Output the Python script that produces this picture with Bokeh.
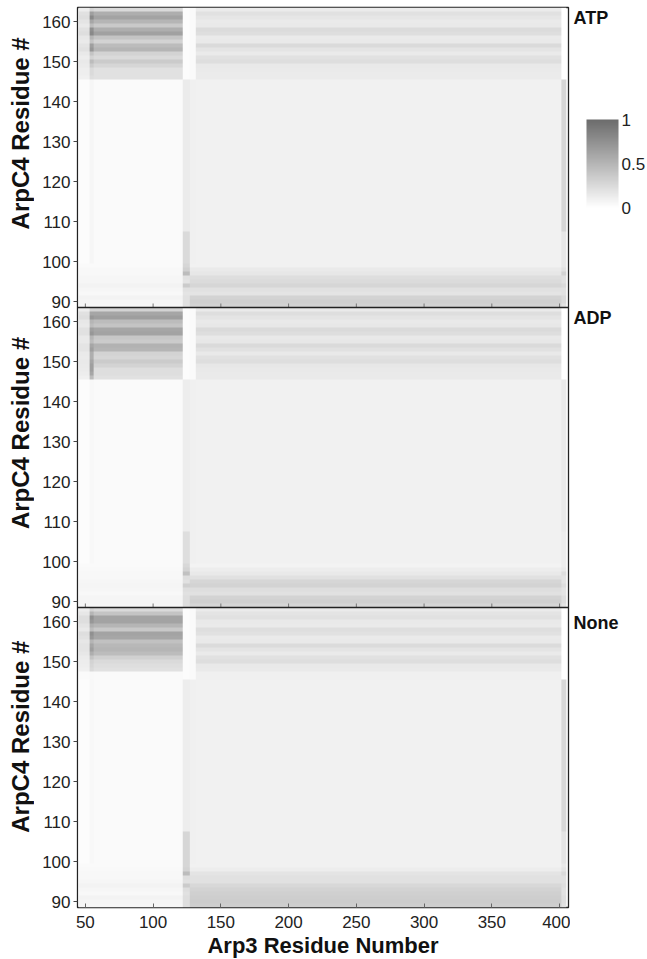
import numpy as np
from bokeh.plotting import figure
from bokeh.layouts import row
from bokeh.models import LinearColorMapper, ColorBar, FixedTicker, Span, Range1d
from bokeh.core.properties import value
from bokeh.embed import file_html
from bokeh.resources import INLINE

# ---------------- axes / labels ----------------
x_ticks = [50, 100, 150, 200, 250, 300, 350, 400]
y_ticks = [90, 100, 110, 120, 130, 140, 150, 160]
cbar_ticks = [0, 0.5, 1]
panel_names = ["ATP", "ADP", "None"]
x_title = "Arp3 Residue Number"
y_title = "ArpC4 Residue #"

# ArpC4 residues (rows) and Arp3 residue segments (columns)
arpc4_rows = list(range(89, 164))
seg_edges = [45, 53, 56, 122, 127, 131, 401, 405]   # edge, line, block, hinge, gap, body, end

# ---------------- ATP ----------------
atp_edge_top = [0.12, 0.20, 0.22, 0.18, 0.15, 0.20, 0.22, 0.16, 0.14, 0.18, 0.20, 0.15, 0.12, 0.15, 0.13, 0.11, 0.11, 0.10]
atp_block_top = [0.25, 0.55, 0.62, 0.50, 0.36, 0.55, 0.64, 0.40, 0.30, 0.45, 0.50, 0.30, 0.25, 0.35, 0.28, 0.20, 0.20, 0.20]
atp_line_top = [0.30, 0.65, 0.80, 0.60, 0.45, 0.75, 0.80, 0.50, 0.40, 0.65, 0.70, 0.40, 0.30, 0.45, 0.35, 0.25, 0.25, 0.22]
atp_body_top = [0.13, 0.20, 0.17, 0.14, 0.15, 0.24, 0.22, 0.14, 0.15, 0.25, 0.18, 0.14, 0.20, 0.22, 0.15, 0.14, 0.13, 0.13]
atp_block_bottom = [0.03, 0.05, 0.05, 0.06, 0.06, 0.08, 0.06, 0.05, 0.08, 0.07, 0.06]
atp_hinge_bottom = [0.28, 0.32, 0.45, 0.20, 0.18, 0.35, 0.20, 0.18, 0.20, 0.20, 0.20]
atp_body_bottom = [0.09, 0.14, 0.16, 0.22, 0.24, 0.28, 0.20, 0.18, 0.30, 0.32, 0.30]
atp_end_bottom = [0.16, 0.20, 0.30, 0.20, 0.20, 0.25, 0.20, 0.20, 0.25, 0.25, 0.20]
# mid-region levels: edge, line, block, hinge(upper, lower), gap, body, end(upper, lower)
atp_mid = [0.02, 0.06, 0.03, 0.13, 0.25, 0.10, 0.09, 0.28, 0.16]

# ---------------- ADP ----------------
adp_edge_top = [0.12, 0.20, 0.22, 0.16, 0.15, 0.20, 0.20, 0.15, 0.15, 0.18, 0.18, 0.14, 0.13, 0.15, 0.14, 0.13, 0.12, 0.10]
adp_block_top = [0.30, 0.60, 0.66, 0.45, 0.40, 0.60, 0.62, 0.38, 0.35, 0.52, 0.50, 0.30, 0.28, 0.35, 0.30, 0.22, 0.22, 0.20]
adp_line_top = [0.30, 0.60, 0.70, 0.50, 0.45, 0.65, 0.70, 0.50, 0.45, 0.60, 0.65, 0.55, 0.55, 0.60, 0.65, 0.65, 0.60, 0.45]
adp_body_top = [0.14, 0.22, 0.18, 0.15, 0.16, 0.25, 0.22, 0.15, 0.16, 0.25, 0.20, 0.15, 0.20, 0.22, 0.16, 0.15, 0.14, 0.14]
adp_block_bottom = [0.03, 0.04, 0.05, 0.05, 0.06, 0.07, 0.06, 0.05, 0.07, 0.07, 0.06]
adp_hinge_bottom = [0.26, 0.30, 0.42, 0.22, 0.20, 0.32, 0.22, 0.20, 0.22, 0.22, 0.22]
adp_body_bottom = [0.08, 0.12, 0.15, 0.20, 0.28, 0.30, 0.22, 0.20, 0.30, 0.32, 0.28]
adp_end_bottom = [0.12, 0.15, 0.22, 0.18, 0.18, 0.22, 0.18, 0.18, 0.22, 0.22, 0.18]
adp_mid = [0.02, 0.05, 0.03, 0.12, 0.22, 0.10, 0.09, 0.14, 0.12]

# ---------------- None ----------------
none_edge_top = [0.12, 0.16, 0.22, 0.22, 0.18, 0.15, 0.22, 0.20, 0.16, 0.18, 0.18, 0.16, 0.13, 0.12, 0.11, 0.10, 0.03, 0.03]
none_block_top = [0.25, 0.40, 0.62, 0.62, 0.50, 0.37, 0.62, 0.60, 0.42, 0.48, 0.50, 0.45, 0.32, 0.25, 0.22, 0.20, 0.03, 0.03]
none_line_top = [0.30, 0.50, 0.75, 0.70, 0.55, 0.45, 0.75, 0.70, 0.50, 0.60, 0.65, 0.55, 0.40, 0.30, 0.28, 0.25, 0.04, 0.04]
none_body_top = [0.13, 0.18, 0.20, 0.15, 0.14, 0.22, 0.20, 0.14, 0.15, 0.24, 0.18, 0.14, 0.20, 0.22, 0.15, 0.14, 0.10, 0.10]
none_block_bottom = [0.03, 0.04, 0.05, 0.05, 0.06, 0.08, 0.06, 0.05, 0.08, 0.07, 0.06]
none_hinge_bottom = [0.28, 0.30, 0.45, 0.22, 0.20, 0.35, 0.22, 0.20, 0.22, 0.22, 0.22]
none_body_bottom = [0.09, 0.12, 0.18, 0.20, 0.20, 0.26, 0.30, 0.32, 0.33, 0.34, 0.33]
none_end_bottom = [0.15, 0.18, 0.25, 0.20, 0.20, 0.22, 0.20, 0.20, 0.22, 0.22, 0.20]
none_mid = [0.02, 0.05, 0.03, 0.12, 0.28, 0.10, 0.09, 0.26, 0.18]

hinge_top_level = 0.02
gap_top_level = 0.03
end_top_level = 0.0


def column_profile(top, mid_upper, mid_lower, bottom):
    vals = []
    for r in arpc4_rows:
        if r >= 146:
            v = top[163 - r] if isinstance(top, list) else top
        elif r >= 108:
            v = mid_upper
        elif r >= 100:
            v = mid_lower
        else:
            v = bottom[99 - r] if isinstance(bottom, list) else bottom
        vals.append(v)
    return vals


def build_matrix(edge_top, block_top, line_top, body_top, block_bottom, hinge_bottom, body_bottom, end_bottom, mid):
    cols = [
        column_profile(edge_top, mid[0], mid[0], block_bottom),
        column_profile(line_top, mid[1], mid[1], block_bottom),
        column_profile(block_top, mid[2], mid[2], block_bottom),
        column_profile(hinge_top_level, mid[3], mid[4], hinge_bottom),
        column_profile(gap_top_level, mid[5], mid[5], body_bottom),
        column_profile(body_top, mid[6], mid[6], body_bottom),
        column_profile(end_top_level, mid[7], mid[8], end_bottom),
    ]
    M = np.zeros((len(arpc4_rows), seg_edges[-1] - seg_edges[0]))
    for i, prof in enumerate(cols):
        a, b = seg_edges[i] - seg_edges[0], seg_edges[i + 1] - seg_edges[0]
        M[:, a:b] = np.array(prof)[:, None]
    return M


mats = [
    build_matrix(atp_edge_top, atp_block_top, atp_line_top, atp_body_top, atp_block_bottom, atp_hinge_bottom, atp_body_bottom, atp_end_bottom, atp_mid),
    build_matrix(adp_edge_top, adp_block_top, adp_line_top, adp_body_top, adp_block_bottom, adp_hinge_bottom, adp_body_bottom, adp_end_bottom, adp_mid),
    build_matrix(none_edge_top, none_block_top, none_line_top, none_body_top, none_block_bottom, none_hinge_bottom, none_body_bottom, none_end_bottom, none_mid),
]

palette = ["#%02x%02x%02x" % (g, g, g) for g in np.linspace(255, 0x6c, 256).astype(int)]
mapper = LinearColorMapper(palette=palette, low=0, high=1)

FONT = "Liberation Sans"
H = 959
TOP, BOTTOM = 7, 52
FRAME_H = H - TOP - BOTTOM
PANEL_SPAN = 75           # ArpC4 units per stacked panel
Y_LO, Y_HI = 88.5, 163.5  # per-panel visible ArpC4 range
offsets = [2 * PANEL_SPAN, PANEL_SPAN, 0]   # ATP on top

# ---------------- main (stacked heatmaps) ----------------
p = figure(frame_width=491, frame_height=FRAME_H, width=536, height=H,
           x_range=(44.2, 406.6), y_range=(Y_LO, Y_HI + 2 * PANEL_SPAN),
           output_backend="svg", toolbar_location=None,
           min_border_left=43, min_border_right=2, min_border_top=TOP, min_border_bottom=BOTTOM)
for M, off in zip(mats, offsets):
    p.image(image=[M], x=seg_edges[0], y=arpc4_rows[0] - 0.5 + off,
            dw=seg_edges[-1] - seg_edges[0], dh=len(arpc4_rows), color_mapper=mapper)

# panel separators and their inner ticks
for off in offsets[:2]:
    sep = Y_LO + off
    p.add_layout(Span(location=sep, dimension="width", line_color="#222222", line_width=1.3))
    p.segment(x0=x_ticks, x1=x_ticks, y0=[sep] * len(x_ticks), y1=[sep + 1] * len(x_ticks),
              line_color="#777777", line_width=1)

p.grid.visible = False
p.outline_line_color = "#222222"
p.outline_line_width = 1.3

tick_pos = [t + off for off in offsets for t in y_ticks]
ya = p.yaxis[0]
ya.ticker = FixedTicker(ticks=tick_pos)
ya.major_label_overrides = {t + off: str(t) for off in offsets for t in y_ticks}
ya.axis_line_color = None
ya.major_tick_out = 4
ya.major_tick_in = 0
ya.minor_tick_line_color = None
ya.major_tick_line_color = "#444444"
ya.major_label_text_font = FONT
ya.major_label_text_font_size = "17px"
ya.major_label_text_color = "#222222"
ya.major_label_standoff = 3

xa = p.xaxis[0]
xa.ticker = FixedTicker(ticks=x_ticks)
xa.axis_line_color = None
xa.major_tick_in = 4
xa.major_tick_out = 0
xa.minor_tick_line_color = None
xa.major_tick_line_color = "#666666"
xa.major_label_text_font = FONT
xa.major_label_text_font_size = "17px"
xa.major_label_text_color = "#222222"
xa.major_label_standoff = 8
xa.axis_label = x_title
xa.axis_label_text_font = FONT
xa.axis_label_text_font_style = "bold"
xa.axis_label_text_font_size = "22px"
xa.axis_label_text_color = "#111111"
xa.axis_label_standoff = 2


def side_figure(w):
    # the frame of a side figure is aligned with the main frame (TOP .. H-BOTTOM);
    # its y range is therefore expressed in canvas pixels
    f = figure(width=w, height=H, x_range=(0, w), y_range=Range1d(H - BOTTOM, TOP),
               output_backend="svg", toolbar_location=None,
               min_border=0, min_border_left=0, min_border_right=0,
               min_border_top=TOP, min_border_bottom=BOTTOM)
    f.axis.visible = False
    f.grid.visible = False
    f.outline_line_color = None
    return f


# ---------------- left: y titles ----------------
left = side_figure(34)
left.text(x=[20, 20, 20], y=[133, 433, 737], text=[y_title] * 3, angle=np.pi / 2,
          text_align="center", text_baseline="middle", text_font=value(FONT),
          text_font_style="bold", text_font_size="24px", text_color="#111111")

# ---------------- right: panel names + colour bar ----------------
right = side_figure(77)
right.text(x=[3, 3, 3], y=[18, 318, 623], text=panel_names,
           text_align="left", text_baseline="middle", text_font=value(FONT),
           text_font_style="bold", text_font_size="18px", text_color="#111111")
cb = ColorBar(color_mapper=mapper, ticker=FixedTicker(ticks=cbar_ticks),
              width=32, height=88, location=(16, 699), padding=0, margin=0,
              bar_line_color=None, major_tick_line_color=None,
              major_label_text_font=FONT, major_label_text_font_size="17px",
              major_label_text_color="#222222", label_standoff=3,
              background_fill_alpha=0)
right.add_layout(cb)

layout = row(left, p, right, spacing=0)
open("out.html", "w").write(file_html(layout, INLINE))
